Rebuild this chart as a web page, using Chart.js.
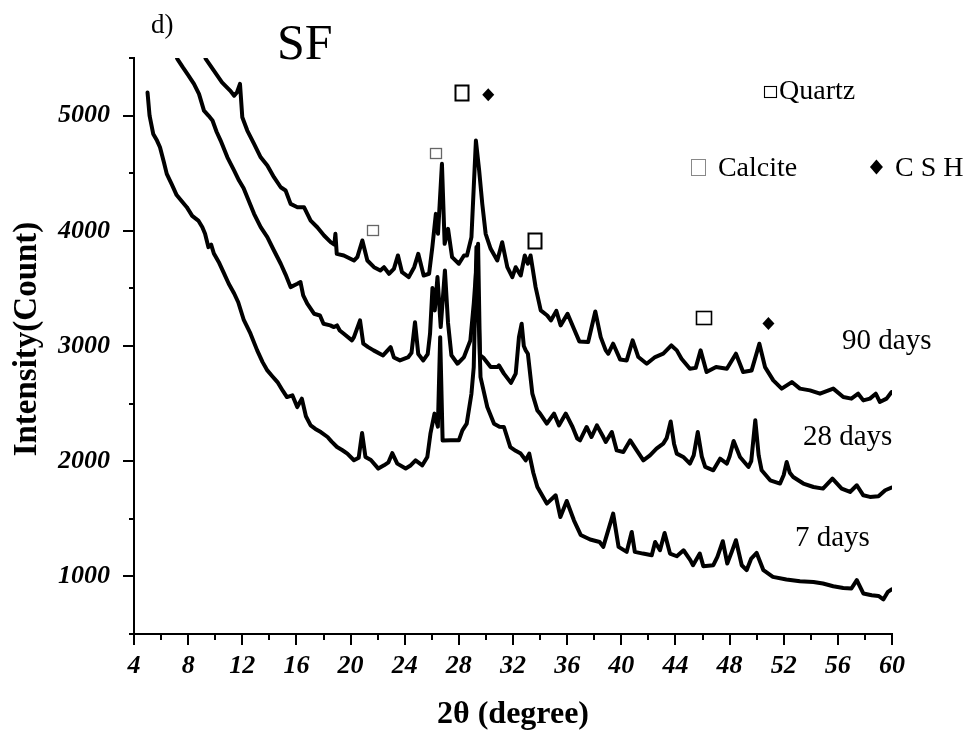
<!DOCTYPE html>
<html>
<head>
<meta charset="utf-8">
<script src="https://cdn.jsdelivr.net/npm/chart.js@4.4.1/dist/chart.umd.min.js"></script>
<style>
  html, body { margin: 0; padding: 0; background: #ffffff; }
  #wrap { width: 971px; height: 734px; }
</style>
</head>
<body>
<div id="wrap"><canvas id="xrd" width="971" height="734"></canvas></div>
<script>
// XRD patterns of the SF mix after 7, 28 and 90 days of curing (2θ in degrees, intensity in counts)
const angle7 = [5.0, 5.15, 5.42, 5.7, 5.92, 6.2, 6.42, 6.8, 7.15, 7.5, 7.9, 8.3, 8.75, 9.05, 9.25, 9.5, 9.7, 9.9, 10.3, 10.65, 11.0, 11.4, 11.7, 12.1, 12.6, 13.1, 13.5, 13.85, 14.2, 14.6, 15.0, 15.3, 15.7, 16.06, 16.4, 16.7, 17.05, 17.4, 17.8, 18.3, 18.6, 19.0, 19.4, 19.76, 20.25, 20.6, 20.85, 21.1, 21.5, 22.05, 22.47, 22.8, 23.08, 23.45, 24.07, 24.4, 24.8, 25.3, 25.67, 25.9, 26.2, 26.45, 26.62, 26.8, 27.4, 28.0, 28.26, 28.58, 28.93, 29.1, 29.3, 29.6, 30.1, 30.6, 31.0, 31.33, 31.8, 32.2, 32.57, 32.94, 33.2, 33.5, 33.8, 34.5, 35.15, 35.5, 35.97, 36.5, 37.0, 37.7, 38.4, 38.67, 39.4, 39.8, 40.4, 40.77, 41.0, 41.6, 42.25, 42.5, 42.86, 43.2, 43.6, 44.1, 44.6, 45.1, 45.3, 45.8, 46.06, 46.8, 47.1, 47.5, 47.83, 48.16, 48.47, 48.9, 49.26, 49.6, 50.0, 50.5, 51.2, 52.2, 53.2, 54.2, 54.9, 55.66, 56.4, 57.0, 57.4, 57.88, 58.5, 59.0, 59.36, 59.7, 59.97];
const count7 = [5200, 5000, 4841, 4783, 4725, 4600, 4494, 4400, 4310, 4260, 4205, 4130, 4089, 4030, 3974, 3858, 3880, 3803, 3720, 3630, 3540, 3456, 3380, 3230, 3109, 2962, 2860, 2788, 2740, 2687, 2610, 2557, 2572, 2470, 2543, 2390, 2311, 2280, 2253, 2210, 2170, 2123, 2095, 2066, 2008, 2030, 2245, 2037, 2010, 1936, 1964, 1990, 2070, 1979, 1936, 1960, 2008, 1964, 2037, 2239, 2413, 2300, 3077, 2180, 2181, 2181, 2268, 2326, 2586, 2817, 3860, 2730, 2470, 2326, 2300, 2297, 2123, 2090, 2066, 2008, 2066, 1900, 1776, 1632, 1704, 1516, 1655, 1487, 1360, 1320, 1299, 1256, 1545, 1256, 1213, 1386, 1213, 1198, 1184, 1299, 1227, 1377, 1198, 1175, 1227, 1141, 1097, 1198, 1089, 1097, 1169, 1305, 1112, 1213, 1314, 1097, 1054, 1155, 1204, 1054, 996, 973, 958, 952, 938, 915, 900, 895, 967, 852, 837, 830, 800, 866, 887];

const angle28 = [7.0, 7.2, 7.6, 7.94, 8.43, 8.8, 9.17, 9.5, 9.8, 10.1, 10.4, 10.9, 11.4, 11.76, 12.1, 12.37, 12.87, 13.36, 13.85, 14.34, 14.84, 15.2, 15.57, 16.07, 16.3, 16.5, 16.8, 17.3, 17.74, 18.0, 18.5, 18.77, 19.0, 19.2, 19.5, 20.1, 20.25, 20.7, 20.94, 21.3, 21.7, 22.4, 22.96, 23.2, 23.65, 24.27, 24.5, 24.76, 25.0, 25.37, 25.7, 25.87, 26.05, 26.22, 26.42, 26.66, 26.97, 27.2, 27.45, 27.9, 28.38, 28.85, 29.1, 29.42, 29.56, 29.8, 30.35, 30.84, 30.96, 31.33, 31.85, 32.2, 32.44, 32.64, 32.8, 32.94, 33.1, 33.43, 33.8, 34.0, 34.5, 35.03, 35.4, 35.9, 36.4, 36.75, 36.95, 37.44, 37.8, 38.2, 38.67, 38.85, 39.3, 39.66, 40.15, 40.66, 41.14, 41.63, 42.12, 42.6, 43.1, 43.35, 43.65, 43.9, 44.1, 44.58, 45.07, 45.35, 45.65, 45.95, 46.2, 46.8, 47.3, 47.8, 48.0, 48.3, 48.77, 49.4, 49.6, 49.9, 50.15, 50.37, 51.0, 51.73, 52.0, 52.22, 52.45, 52.7, 53.45, 54.2, 54.9, 55.6, 56.28, 56.9, 57.4, 57.88, 58.37, 59.0, 59.5, 59.97];
const count28 = [5560, 5492, 5420, 5362, 5275, 5188, 5043, 5000, 4957, 4860, 4783, 4638, 4523, 4436, 4370, 4291, 4147, 4031, 3945, 3829, 3714, 3620, 3511, 3540, 3555, 3440, 3367, 3280, 3265, 3193, 3179, 3164, 3179, 3135, 3106, 3049, 3077, 3222, 3020, 2990, 2962, 2918, 2990, 2900, 2875, 2904, 2940, 3207, 2930, 2875, 2930, 3106, 3504, 3309, 3598, 3164, 3656, 3200, 2920, 2846, 2904, 3049, 3367, 3887, 2920, 2900, 2817, 2817, 2832, 2760, 2680, 2760, 3077, 3193, 3000, 2962, 2933, 2586, 2441, 2413, 2326, 2413, 2311, 2413, 2297, 2196, 2181, 2297, 2210, 2311, 2210, 2167, 2253, 2094, 2080, 2181, 2094, 2008, 2051, 2109, 2153, 2200, 2345, 2150, 2066, 2037, 1979, 2050, 2253, 2040, 1950, 1921, 2022, 1979, 2040, 2175, 2037, 1950, 2000, 2355, 2050, 1921, 1834, 1806, 1880, 1993, 1900, 1863, 1806, 1776, 1762, 1849, 1762, 1733, 1791, 1704, 1690, 1696, 1748, 1771];

const angle90 = [9.1, 9.3, 9.9, 10.5, 11.1, 11.4, 11.6, 11.83, 12.0, 12.37, 12.87, 13.36, 13.85, 14.34, 14.84, 15.2, 15.57, 16.07, 16.56, 17.05, 17.54, 18.04, 18.53, 18.8, 18.88, 18.98, 19.5, 20.25, 20.5, 20.87, 21.24, 21.73, 22.2, 22.47, 22.84, 23.2, 23.5, 23.8, 24.3, 24.7, 25.0, 25.4, 25.8, 26.04, 26.3, 26.46, 26.75, 26.95, 27.2, 27.5, 28.0, 28.38, 28.6, 28.93, 29.1, 29.26, 29.5, 29.73, 29.98, 30.35, 30.84, 31.2, 31.58, 31.95, 32.2, 32.57, 32.87, 33.1, 33.3, 33.67, 34.05, 34.53, 34.8, 35.2, 35.52, 36.03, 36.5, 36.9, 37.55, 38.08, 38.48, 38.85, 39.04, 39.4, 39.92, 40.4, 40.84, 41.26, 41.88, 42.5, 43.1, 43.7, 44.1, 44.45, 45.07, 45.5, 45.86, 46.3, 47.0, 47.8, 48.47, 49.0, 49.63, 50.2, 50.62, 51.23, 51.85, 52.6, 53.2, 53.94, 54.68, 55.66, 56.4, 57.0, 57.5, 57.88, 58.37, 58.8, 59.1, 59.6, 59.97];
const count90 = [5560, 5492, 5390, 5289, 5217, 5173, 5200, 5275, 4986, 4870, 4754, 4638, 4566, 4465, 4378, 4350, 4234, 4205, 4205, 4089, 4031, 3959, 3901, 3880, 3974, 3800, 3786, 3742, 3771, 3916, 3742, 3684, 3656, 3684, 3627, 3670, 3786, 3641, 3598, 3684, 3800, 3612, 3627, 3858, 4147, 3974, 4581, 3887, 4017, 3771, 3714, 3786, 3786, 3945, 4378, 4783, 4523, 4234, 3974, 3844, 3742, 3901, 3684, 3598, 3684, 3612, 3786, 3714, 3786, 3511, 3309, 3265, 3222, 3305, 3179, 3280, 3150, 3040, 3034, 3300, 3077, 2962, 2933, 3020, 2882, 2875, 3049, 2904, 2846, 2904, 2933, 3005, 2962, 2890, 2803, 2810, 2962, 2774, 2817, 2803, 2933, 2774, 2788, 3020, 2817, 2702, 2630, 2687, 2630, 2615, 2586, 2630, 2557, 2543, 2586, 2528, 2543, 2586, 2514, 2543, 2600];

// Axis ticks
const angleTicks = [4, 8, 12, 16, 20, 24, 28, 32, 36, 40, 44, 48, 52, 56, 60];
const countTicks = [1000, 2000, 3000, 4000, 5000];

// Curve labels
const curveNames = ['7 days', '28 days', '90 days'];
const curveLabelAngle = [52.83, 53.42, 56.31];
const curveLabelCount = [1265, 2138, 2977];

// Phase markers above the identified reflections
const markerKind = ['quartzBold', 'csh', 'calcite', 'calcite', 'quartzBold', 'quartzWide', 'csh'];
const markerAngle = [28.16, 30.17, 26.24, 21.62, 33.59, 46.11, 50.87];
const markerCount = [5197, 5182, 4679, 4003, 3920, 3248, 3196];

// Key for the phase symbols
const keyKind = ['quartzKey', 'calciteKey', 'cshKey'];
const keyText = ['Quartz', 'Calcite', 'C S H'];
const keySymbolAngle = [50.99, 45.67, 58.85];
const keySymbolCount = [5206, 4553, 4553];
const keyTextAngle = [51.65, 47.14, 60.22];
const keyTextCount = [5145, 4480, 4480];

const SERIF = "'Liberation Serif', 'Times New Roman', serif";

const symbolStyle = {
  quartzBold: { shape: 'square', w: 13, h: 15, stroke: '#000', lw: 2 },
  quartzWide: { shape: 'square', w: 15, h: 13, stroke: '#000', lw: 1.6 },
  calcite:    { shape: 'square', w: 11, h: 10, stroke: '#666', lw: 1.3 },
  csh:        { shape: 'diamond', w: 12, h: 13, fill: '#000' },
  quartzKey:  { shape: 'square', w: 12, h: 11, stroke: '#000', lw: 1.1 },
  calciteKey: { shape: 'square', w: 14, h: 16, stroke: '#888', lw: 1 },
  cshKey:     { shape: 'diamond', w: 13, h: 15, fill: '#000' }
};

function drawSymbol(ctx, kind, cx, cy) {
  const s = symbolStyle[kind];
  ctx.save();
  if (s.shape === 'square') {
    ctx.strokeStyle = s.stroke;
    ctx.lineWidth = s.lw;
    ctx.strokeRect(Math.round(cx - s.w / 2) + 0.5, Math.round(cy - s.h / 2) + 0.5, s.w, s.h);
  } else {
    ctx.fillStyle = s.fill;
    ctx.beginPath();
    ctx.moveTo(cx, cy - s.h / 2);
    ctx.lineTo(cx + s.w / 2, cy);
    ctx.lineTo(cx, cy + s.h / 2);
    ctx.lineTo(cx - s.w / 2, cy);
    ctx.closePath();
    ctx.fill();
  }
  ctx.restore();
}

const decorations = {
  id: 'decorations',
  afterDraw(chart) {
    const { ctx, chartArea, scales: { x, y } } = chart;
    ctx.save();

    // minor tick marks between the labelled ones
    ctx.strokeStyle = '#000';
    ctx.lineWidth = 2;
    ctx.beginPath();
    for (let v = 6; v < 60; v += 4) {
      const px = Math.round(x.getPixelForValue(v));
      ctx.moveTo(px, chartArea.bottom);
      ctx.lineTo(px, chartArea.bottom + 6);
    }
    for (let v = 500; v <= 5500; v += 1000) {
      const py = Math.round(y.getPixelForValue(v));
      ctx.moveTo(chartArea.left, py);
      ctx.lineTo(chartArea.left - 5, py);
    }
    ctx.stroke();

    // y-axis title
    ctx.save();
    ctx.translate(27, chartArea.top + 281);
    ctx.rotate(-Math.PI / 2);
    ctx.fillStyle = '#000';
    ctx.font = 'bold 33px ' + SERIF;
    ctx.textAlign = 'center';
    ctx.textBaseline = 'middle';
    ctx.fillText('Intensity(Count)', 0, 0);
    ctx.restore();

    // phase markers
    markerKind.forEach((k, i) => {
      drawSymbol(ctx, k, x.getPixelForValue(markerAngle[i]), y.getPixelForValue(markerCount[i]));
    });

    // symbol key
    ctx.fillStyle = '#000';
    ctx.textBaseline = 'alphabetic';
    ctx.textAlign = 'left';
    ctx.font = '28px ' + SERIF;
    keyKind.forEach((k, i) => {
      drawSymbol(ctx, k, x.getPixelForValue(keySymbolAngle[i]), y.getPixelForValue(keySymbolCount[i]));
      ctx.fillText(keyText[i], x.getPixelForValue(keyTextAngle[i]), y.getPixelForValue(keyTextCount[i]));
    });

    // curve labels
    ctx.font = '29px ' + SERIF;
    curveNames.forEach((t, i) => {
      ctx.fillText(t, x.getPixelForValue(curveLabelAngle[i]), y.getPixelForValue(curveLabelCount[i]));
    });

    // panel letter and sample name
    ctx.font = '27px ' + SERIF;
    ctx.fillText('d)', chartArea.left + 17, chartArea.top - 25);
    ctx.font = '50px ' + SERIF;
    ctx.fillText('SF', chartArea.left + 143, chartArea.top + 0.5);

    ctx.restore();
  }
};

function series(angles, counts) {
  return angles.map((a, i) => ({ x: a, y: counts[i] }));
}

const lineStyle = {
  borderColor: '#000',
  borderWidth: 4,
  pointRadius: 0,
  tension: 0,
  borderJoinStyle: 'round',
  borderCapStyle: 'round',
  fill: false
};

const tickFont = { family: SERIF, size: 26, style: 'italic', weight: 'bold' };

new Chart(document.getElementById('xrd'), {
  type: 'line',
  data: {
    datasets: [
      Object.assign({ label: curveNames[0], data: series(angle7, count7) }, lineStyle),
      Object.assign({ label: curveNames[1], data: series(angle28, count28) }, lineStyle),
      Object.assign({ label: curveNames[2], data: series(angle90, count90) }, lineStyle)
    ]
  },
  options: {
    responsive: false,
    animation: false,
    devicePixelRatio: 1,
    layout: { padding: { top: 58, right: 79, bottom: 0, left: 0 } },
    plugins: { legend: { display: false }, tooltip: { enabled: false } },
    scales: {
      x: {
        type: 'linear',
        min: angleTicks[0],
        max: angleTicks[angleTicks.length - 1],
        afterFit: s => { s.height = 100; },
        afterBuildTicks: s => { s.ticks = angleTicks.map(v => ({ value: v })); },
        ticks: { color: '#000', font: tickFont, padding: 6, maxRotation: 0, autoSkip: false, callback: v => String(v) },
        grid: { display: true, drawOnChartArea: false, drawTicks: true, tickLength: 11, tickWidth: 2, color: '#000', lineWidth: 2 },
        border: { display: true, color: '#000', width: 2 },
        title: { display: true, text: '2θ (degree)', color: '#000', font: { family: SERIF, size: 32, weight: 'bold' }, padding: { top: 0, bottom: 0 } }
      },
      y: {
        type: 'linear',
        min: 500,
        max: 5500,
        afterFit: s => { s.width = 134; },
        afterBuildTicks: s => { s.ticks = countTicks.map(v => ({ value: v })); },
        ticks: { color: '#000', font: tickFont, padding: 13, autoSkip: false, callback: v => String(v) },
        grid: { display: true, drawOnChartArea: false, drawTicks: true, tickLength: 11, tickWidth: 2, color: '#000', lineWidth: 2 },
        border: { display: true, color: '#000', width: 2 }
      }
    }
  },
  plugins: [decorations]
});
</script>
</body>
</html>
